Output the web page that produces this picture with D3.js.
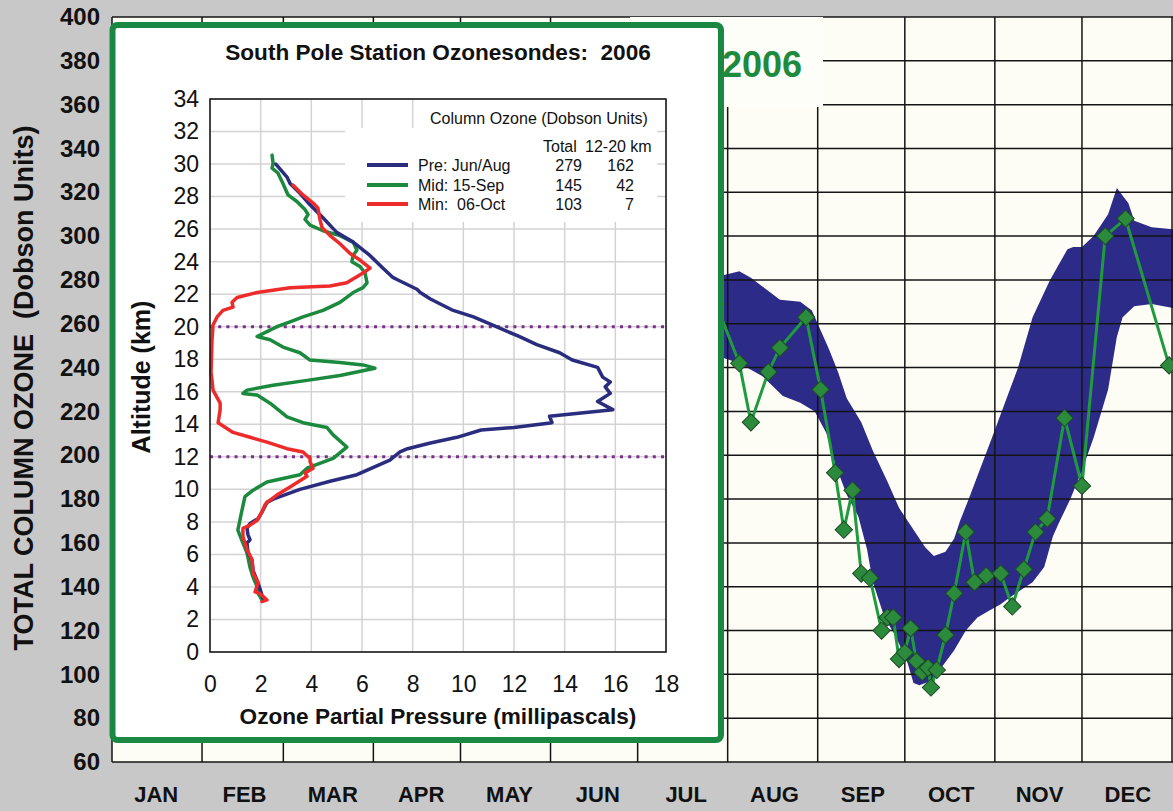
<!DOCTYPE html>
<html>
<head>
<meta charset="utf-8">
<script src="https://cdn.jsdelivr.net/npm/d3@7"></script>
<style>
  html, body { margin: 0; padding: 0; background: #c8c8c8; }
  svg { display: block; }
  text { font-family: "Liberation Sans", Arial, Helvetica, sans-serif; }
</style>
</head>
<body>
<svg id="chart" width="1173" height="811"></svg>
<script>
// ---------- Background chart: total column ozone over the year ----------
const monthLabels = ["JAN","FEB","MAR","APR","MAY","JUN","JUL","AUG","SEP","OCT","NOV","DEC"];
const duTicks = d3.range(60, 401, 20);

// Historical range band (day of year, Dobson Units): upper and lower edges
const bandTopDay = [200, 207, 216, 220, 225, 230, 237, 241, 244, 247, 250, 253, 258, 262, 267, 271, 276, 280, 283, 287, 290, 292, 295, 303, 312, 317, 323, 329, 331, 334, 338, 343, 346, 350, 352, 358, 366];
const bandTopDU  = [281, 281, 284, 281, 276, 271, 270, 266, 257, 248, 238, 226, 215, 202, 188, 176, 166, 158, 154, 156, 162, 170, 180, 208, 240, 263, 280, 294, 295, 295, 300, 310, 322, 315, 307, 304, 303];
const bandLowDay = [200, 207, 216, 224, 231, 237, 242, 246, 249, 253, 257, 260, 262, 266, 270, 274, 276, 278, 282, 285, 290, 294, 298, 302, 306, 309, 317, 321, 324, 326, 330, 334, 338, 343, 346, 348, 352, 358, 366];
const bandLowDU  = [246, 246, 242, 236, 227, 224, 220, 210, 196, 182, 172, 157, 142, 126, 117, 105, 96, 95, 97, 102, 111, 120, 126, 129, 132, 135, 142, 149, 163, 169, 180, 193, 208, 230, 254, 263, 268, 269, 267];

// 2006 daily total ozone observations
const sondeDates = ["2006-07-28","2006-08-05","2006-08-09","2006-08-15","2006-08-19","2006-08-28",
  "2006-09-02","2006-09-07","2006-09-10","2006-09-13","2006-09-16","2006-09-19","2006-09-23",
  "2006-09-25","2006-09-27","2006-09-29","2006-10-01","2006-10-03","2006-10-05","2006-10-07",
  "2006-10-09","2006-10-10","2006-10-12","2006-10-15","2006-10-18","2006-10-22","2006-10-25",
  "2006-10-29","2006-11-03","2006-11-07","2006-11-11","2006-11-15","2006-11-19","2006-11-25",
  "2006-12-01","2006-12-09","2006-12-16","2006-12-31"];
const sondeDU = [269, 242, 215, 238, 249, 263, 230, 192, 166, 184, 146, 144, 120, 126, 126, 107,
  110, 121, 106, 101, 103, 94, 102, 118, 137, 165, 142, 145, 146, 131, 148, 165, 171, 217, 186,
  300, 308, 241];

// ---------- Inset: ozone partial pressure profiles ----------
const pressureTicks = d3.range(0, 19, 2);
const altitudeTicks = d3.range(0, 35, 2);

const prePressure = [2.6,3.04,3.16,3.55,3.95,4.46,5.0,5.65,6.3,6.83,7.2,7.38,8.17,8.3,8.7,9.6,10.4,11.3,12.2,12.9,13.8,14.3,15.3,15.5,15.8,15.6,15.8,15.3,15.9,13.4,13.5,12.0,10.7,9.75,8.7,7.8,7.5,7.1,5.8,4.74,3.55,2.49,2.25,2.05,1.9,1.58,1.46,1.5,1.58,1.46,1.5,1.66,1.7,1.86,1.97,2.05,2.1];
const preAltitude = [30.0,29.2,28.8,28.2,27.5,26.7,25.8,25.2,24.4,23.6,23.05,22.9,22.3,22.1,21.7,21.0,20.6,20.0,19.4,18.9,18.4,17.95,17.5,16.9,16.6,16.3,15.9,15.4,14.9,14.5,14.1,13.8,13.65,13.2,12.85,12.5,12.3,11.8,10.9,10.5,10.0,9.4,9.2,8.6,8.2,7.9,7.6,7.2,6.9,6.7,6.1,5.65,5.0,4.4,3.9,3.5,3.3];

const midPressure = [2.45,2.49,2.45,2.68,2.88,3.08,3.43,3.75,3.87,3.75,3.95,4.46,5.13,5.65,5.8,5.65,5.6,5.92,6.12,6.2,6.04,5.65,5.13,4.46,3.67,3.16,2.64,2.25,1.86,2.37,2.88,3.55,3.95,5.13,6.04,6.51,5.13,3.83,2.49,1.46,1.3,1.86,2.37,3.04,3.67,4.62,4.86,5.4,4.86,3.83,3.55,2.25,1.7,1.38,1.26,1.18,1.1,1.3,1.46,1.58,1.7,1.86,1.9,2.05];
const midAltitude = [30.55,30.05,29.75,29.45,28.8,28.1,27.7,27.2,26.9,26.6,26.25,25.9,25.6,25.2,24.7,24.4,24.0,23.7,23.3,22.7,22.4,22.1,21.5,21.0,20.6,20.3,20.0,19.7,19.4,19.2,18.75,18.4,17.95,17.8,17.65,17.45,17.0,16.7,16.4,16.1,15.9,15.8,15.3,14.45,14.1,13.8,13.35,12.6,11.9,11.3,10.9,10.45,9.95,9.55,8.7,8.1,7.5,6.7,6.1,5.2,4.6,4.0,3.6,3.2];

const minPressure = [3.28,3.67,4.07,4.26,4.34,4.42,4.74,5.13,5.53,5.92,6.32,6.04,5.4,4.74,3.16,1.86,1.07,0.87,0.91,0.51,0.28,0.12,0.08,0.04,0.08,0.12,0.4,0.4,0.32,0.91,1.58,2.25,3.04,3.67,3.95,3.95,4.07,3.75,3.83,3.16,2.64,2.25,2.17,2.05,1.86,1.58,1.3,1.3,1.46,1.66,1.7,1.9,1.78,1.97,2.25,2.05];
const minAltitude = [28.7,28.1,27.6,27.3,26.6,26.1,25.6,25.1,24.5,24.1,23.6,23.3,22.7,22.5,22.4,22.1,21.8,21.5,21.2,21.0,20.6,20.1,19.2,17.2,16.7,16.1,15.3,14.9,14.1,13.5,13.2,12.9,12.5,12.3,11.9,11.7,11.3,11.0,10.8,10.15,9.65,9.2,9.05,8.6,8.1,7.8,7.6,7.1,6.3,5.65,4.85,4.25,3.7,3.6,3.2,3.1];

const layerBounds = [12, 20];
const legendNames = ["Pre: Jun/Aug", "Mid: 15-Sep", "Min:  06-Oct"];
const legendTotal = ["279", "145", "103"];
const legendLayer = ["162", "42", "7"];
const legendColors = ["#2a2c7e", "#1b8a3e", "#ee2b2b"];

// ======================================================================
const svg = d3.select("#chart");
const W = 1173, H = 811;

svg.append("rect").attr("width", W).attr("height", H).attr("fill", "#c8c8c8");

const parseDay = d3.timeParse("%Y-%m-%d");
const yearStart = new Date(2006, 0, 1);
const dayToDate = d => d3.timeDay.offset(yearStart, d);

const xTime = d3.scaleTime().domain([yearStart, new Date(2007, 0, 1)]).range([112, 1172]);
const yDU = d3.scaleLinear().domain([60, 400]).range([762, 17]);
const monthBand = d3.scaleBand().domain(monthLabels).range([112, 1172]);

// plot area
svg.append("rect").attr("x", 112).attr("y", yDU(400)).attr("width", W - 112)
  .attr("height", yDU(60) - yDU(400)).attr("fill", "#fdfdf5");

// historical band
const bandPts = bandTopDay.map((d, i) => [xTime(dayToDate(d)), yDU(bandTopDU[i])])
  .concat(bandLowDay.map((d, i) => [xTime(dayToDate(d)), yDU(bandLowDU[i])]).reverse());
svg.append("path").attr("d", d3.line()(bandPts) + "Z").attr("fill", "#2d2b88");

// grid
const grid = svg.append("g").attr("stroke", "#141414").attr("stroke-width", 1.5);
grid.selectAll(".h").data(duTicks).join("line")
  .attr("x1", 112).attr("x2", W).attr("y1", d => yDU(d)).attr("y2", d => yDU(d));
grid.selectAll(".v").data(d3.timeMonth.range(yearStart, new Date(2007, 0, 2))).join("line")
  .attr("x1", d => xTime(d)).attr("x2", d => xTime(d)).attr("y1", yDU(400)).attr("y2", yDU(60));

// daily observations
const obs = sondeDates.map((d, i) => [xTime(parseDay(d)), yDU(sondeDU[i])]);
svg.append("path").attr("d", d3.line()(obs)).attr("fill", "none")
  .attr("stroke", "#1f9a3e").attr("stroke-width", 3);
svg.selectAll(".obs").data(obs).join("path")
  .attr("d", d3.symbol(d3.symbolSquare, 150))
  .attr("transform", d => `translate(${d[0]},${d[1]}) rotate(45)`)
  .attr("fill", "#2b8a3c").attr("stroke", "#1d4a26").attr("stroke-width", 1);

// title box of the background chart
svg.append("rect").attr("x", 630).attr("y", 17).attr("width", 193).attr("height", 90).attr("fill", "#fefef8");
svg.append("text").attr("x", 722).attr("y", 77).attr("font-size", 36).attr("font-weight", "bold")
  .attr("fill", "#1d8a3e").text("2006");

// axes
const leftAxis = svg.append("g").attr("transform", "translate(112,0)")
  .call(d3.axisLeft(yDU).tickValues(duTicks).tickSize(0).tickPadding(12));
leftAxis.select(".domain").remove();
leftAxis.selectAll("text").attr("font-size", 24).attr("font-weight", "bold").attr("fill", "#111")
  .style("font-family", "'Liberation Sans', Arial, sans-serif");

const bottomAxis = svg.append("g").attr("transform", `translate(0,${yDU(60)})`)
  .call(d3.axisBottom(monthBand).tickSize(0).tickPadding(24));
bottomAxis.select(".domain").remove();
bottomAxis.selectAll("text").attr("font-size", 22).attr("font-weight", "bold").attr("fill", "#111")
  .style("font-family", "'Liberation Sans', Arial, sans-serif");

svg.append("text").attr("transform", "translate(33,388) rotate(-90)")
  .attr("text-anchor", "middle").attr("font-size", 27).attr("font-weight", "bold").attr("fill", "#111")
  .style("white-space", "pre").text("TOTAL COLUMN OZONE  (Dobson Units)");

// ---------------- inset panel ----------------
const inset = svg.append("g");
inset.append("rect").attr("x", 112.5).attr("y", 25).attr("width", 608.5).attr("height", 715)
  .attr("rx", 5).attr("fill", "#ffffff").attr("stroke", "#1a8743").attr("stroke-width", 6);

inset.append("text").attr("x", 438).attr("y", 60).attr("text-anchor", "middle")
  .attr("font-size", 22.6).attr("font-weight", "bold").attr("fill", "#111")
  .style("white-space", "pre").text("South Pole Station Ozonesondes:  2006");

const xP = d3.scaleLinear().domain([0, 18]).range([210, 666]);
const yA = d3.scaleLinear().domain([0, 34]).range([652, 99]);

const ig = inset.append("g").attr("stroke", "#d3d3d3").attr("stroke-width", 1.5);
ig.selectAll(".gx").data(pressureTicks).join("line")
  .attr("x1", d => xP(d)).attr("x2", d => xP(d)).attr("y1", yA(34)).attr("y2", yA(0));
ig.selectAll(".gy").data(altitudeTicks).join("line")
  .attr("x1", xP(0)).attr("x2", xP(18)).attr("y1", d => yA(d)).attr("y2", d => yA(d));

// legend backgrounds
inset.append("rect").attr("x", 424).attr("y", yA(34) + 1).attr("width", 233).attr("height", 28).attr("fill", "#fff");
inset.append("rect").attr("x", 345).attr("y", 128).attr("width", 312).attr("height", 94).attr("fill", "#fff");

// 12-20 km layer bounds
inset.selectAll(".layer").data(layerBounds).join("line")
  .attr("x1", xP(0)).attr("x2", xP(18)).attr("y1", d => yA(d)).attr("y2", d => yA(d))
  .attr("stroke", "#7b2c8c").attr("stroke-width", 3).attr("stroke-dasharray", "3,5.2");

// profiles
const profLine = d3.line().x(d => xP(d[0])).y(d => yA(d[1]));
const profiles = [
  { p: midPressure, a: midAltitude, c: legendColors[1] },
  { p: prePressure, a: preAltitude, c: legendColors[0] },
  { p: minPressure, a: minAltitude, c: legendColors[2] }
];
profiles.forEach(pr => {
  inset.append("path").attr("d", profLine(pr.p.map((v, i) => [v, pr.a[i]])))
    .attr("fill", "none").attr("stroke", pr.c).attr("stroke-width", 3.5)
    .attr("stroke-linejoin", "round").attr("stroke-linecap", "round");
});

// frame
inset.append("rect").attr("x", xP(0)).attr("y", yA(34)).attr("width", xP(18) - xP(0))
  .attr("height", yA(0) - yA(34)).attr("fill", "none").attr("stroke", "#111").attr("stroke-width", 1.5);

// inset axes
const ia = inset.append("g").attr("transform", `translate(${xP(0)},0)`)
  .call(d3.axisLeft(yA).tickValues(altitudeTicks).tickSize(0).tickPadding(11));
ia.select(".domain").remove();
ia.selectAll("text").attr("font-size", 23).attr("fill", "#111")
  .style("font-family", "'Liberation Sans', Arial, sans-serif");
const ib = inset.append("g").attr("transform", `translate(0,${yA(0)})`)
  .call(d3.axisBottom(xP).tickValues(pressureTicks).tickSize(0).tickPadding(24));
ib.select(".domain").remove();
ib.selectAll("text").attr("font-size", 23).attr("fill", "#111")
  .style("font-family", "'Liberation Sans', Arial, sans-serif");

inset.append("text").attr("transform", "translate(150,377) rotate(-90)").attr("text-anchor", "middle")
  .attr("font-size", 25).attr("font-weight", "bold").attr("fill", "#111").text("Altitude (km)");
inset.append("text").attr("x", 438).attr("y", 724).attr("text-anchor", "middle")
  .attr("font-size", 22.6).attr("font-weight", "bold").attr("fill", "#111")
  .text("Ozone Partial Pressure (millipascals)");

// legend
const lg = inset.append("g").attr("font-size", 16).attr("fill", "#111");
lg.append("text").attr("x", 539).attr("y", 124).attr("text-anchor", "middle").text("Column Ozone (Dobson Units)");
lg.append("text").attr("x", 543).attr("y", 152).text("Total");
lg.append("text").attr("x", 585).attr("y", 152).text("12-20 km");
const rowY = [165, 185, 204];
legendNames.forEach((n, i) => {
  lg.append("line").attr("x1", 367).attr("x2", 408).attr("y1", rowY[i]).attr("y2", rowY[i])
    .attr("stroke", legendColors[i]).attr("stroke-width", 4);
  lg.append("text").attr("x", 418).attr("y", rowY[i] + 6).style("white-space", "pre").text(n);
  lg.append("text").attr("x", 582).attr("y", rowY[i] + 6).attr("text-anchor", "end").text(legendTotal[i]);
  lg.append("text").attr("x", 634).attr("y", rowY[i] + 6).attr("text-anchor", "end").text(legendLayer[i]);
});
</script>
</body>
</html>
